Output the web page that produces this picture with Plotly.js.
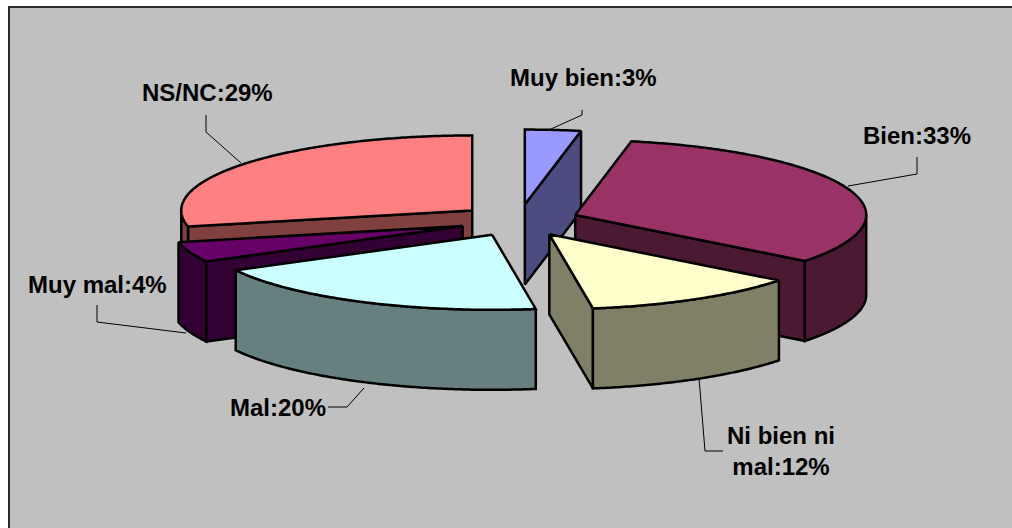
<!DOCTYPE html>
<html>
<head>
<meta charset="utf-8">
<script src="https://cdn.plot.ly/plotly-3.0.1.min.js"></script>
<style>html,body{margin:0;padding:0;background:#fff}#chart{width:1012px;height:528px}</style>
</head>
<body>
<div id="chart"></div>
<script>
// Data (percent of the pie, clockwise from 12 o'clock)
const categories = ['Muy bien', 'Bien', 'Ni bien ni mal', 'Mal', 'Muy mal', 'NS/NC'];
const labelTexts = ['Muy bien', 'Bien', 'Ni bien ni<br>mal', 'Mal', 'Muy mal', 'NS/NC'];
const values = [3.1, 32.5, 12.1, 19.6, 4.4, 28.5];
const topColors = ['#9999FF', '#993366', '#FFFFCC', '#CCFFFF', '#660066', '#FF8080'];
const sideColors = ['#4C4C80', '#4C1933', '#808066', '#668080', '#330033', '#804040'];
// Painter's order, back to front
const drawOrder = [5, 4, 0, 1, 3, 2];

// Pie projection
const pie = {cx: 519, cy: 220.5, rx: 291, ry: 75, depth: 80, explodeX: 60, explodeY: 16};

const total = values.reduce((a, b) => a + b, 0);
const slices = [];
let cum = 0;
values.forEach((v, i) => {
  const a0 = cum / total * 2 * Math.PI;
  cum += v;
  const a1 = cum / total * 2 * Math.PI;
  const mid = (a0 + a1) / 2;
  slices.push({i, a0, a1,
    ax: pie.cx + pie.explodeX * Math.sin(mid),
    ay: pie.cy - pie.explodeY * Math.cos(mid)});
});
const rim = (s, a, dz) => [s.ax + pie.rx * Math.sin(a), s.ay - pie.ry * Math.cos(a) + (dz || 0)];
function arcPts(s, a0, a1, dz) {
  const n = Math.max(2, Math.ceil(Math.abs(a1 - a0) / 0.01));
  const pts = [];
  for (let k = 0; k <= n; k++) pts.push(rim(s, a0 + (a1 - a0) * k / n, dz));
  return pts;
}
const traces = [];
function poly(pts, fill, name) {
  const x = pts.map(p => p[0]).concat(pts[0][0]);
  const y = pts.map(p => p[1]).concat(pts[0][1]);
  traces.push({type: 'scatter', mode: 'lines', x, y, fill: 'toself', fillcolor: fill,
    line: {color: '#000', width: 2.5, simplify: false}, name, hoverinfo: 'name', showlegend: false});
}
drawOrder.forEach(i => {
  const s = slices[i], side = sideColors[i], name = categories[i];
  const d = pie.depth, A = [s.ax, s.ay], B = [s.ax, s.ay + d];
  // start cut wall faces the viewer in the left half, end cut wall in the right half
  if (s.a0 > Math.PI) poly([A, rim(s, s.a0), rim(s, s.a0, d), B], side, name);
  if (s.a1 < Math.PI) poly([A, rim(s, s.a1), rim(s, s.a1, d), B], side, name);
  // outer curved wall, front half only
  const w0 = Math.max(s.a0, Math.PI / 2), w1 = Math.min(s.a1, 3 * Math.PI / 2);
  if (w1 > w0) poly(arcPts(s, w0, w1).concat(arcPts(s, w1, w0, d)), side, name);
  poly([A].concat(arcPts(s, s.a0, s.a1)), topColors[i], name);
});

// Leader lines and label placement
const leaderX = [[582, 582, 551], [917, 917, 848], [723, 705, 699], [328, 347, 364], [97, 97, 186], [206, 206, 241]];
const leaderY = [[110, 115, 129], [157, 174, 186], [451, 451, 378], [407, 407, 388], [305, 322, 333], [115, 132, 163]];
const labelX = [583, 917, 781, 278, 97, 207];
const labelY = [77, 135, 451, 407, 284, 92];
leaderX.forEach((lx, i) => traces.push({type: 'scatter', mode: 'lines', x: lx, y: leaderY[i],
  line: {color: '#000', width: 1}, hoverinfo: 'skip', showlegend: false}));

const annotations = categories.map((c, i) => ({
  x: labelX[i], y: labelY[i], xref: 'x', yref: 'y', showarrow: false,
  text: labelTexts[i] + ':' + Math.round(values[i]) + '%',
  align: 'center', xanchor: 'center', yanchor: 'middle',
  font: {family: '"Liberation Sans", Arial, sans-serif', size: 24, color: '#000', weight: 700}
}));

const layout = {
  width: 1012, height: 528,
  margin: {l: 0, r: 0, t: 0, b: 0},
  paper_bgcolor: '#fff', plot_bgcolor: '#fff',
  showlegend: false,
  xaxis: {range: [0, 1012], visible: false, fixedrange: true},
  yaxis: {range: [528, 0], visible: false, fixedrange: true},
  shapes: [
    {type: 'rect', layer: 'below', xref: 'x', yref: 'y', x0: 8, y0: 6, x1: 1012, y1: 528,
      fillcolor: '#2a2a2a', line: {width: 0}},
    {type: 'rect', layer: 'below', xref: 'x', yref: 'y', x0: 10, y0: 8, x1: 1012, y1: 528,
      fillcolor: '#C0C0C0', line: {width: 0}}
  ],
  annotations
};
Plotly.newPlot('chart', traces, layout, {displayModeBar: false, staticPlot: true});
</script>
</body>
</html>
